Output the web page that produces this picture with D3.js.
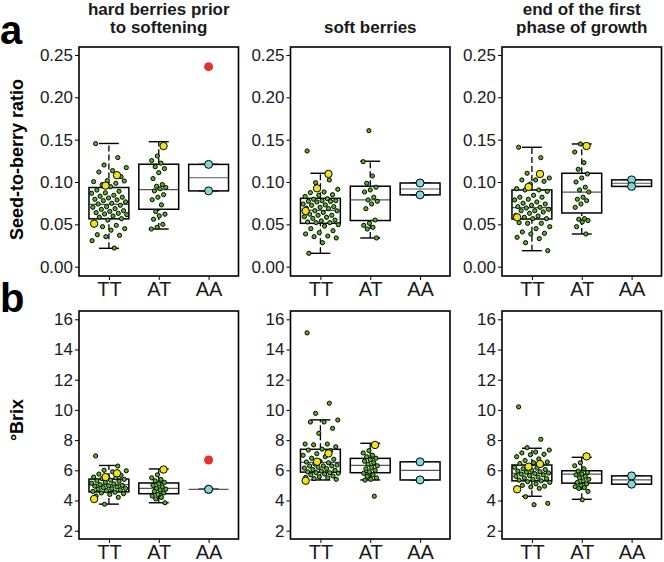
<!DOCTYPE html>
<html><head><meta charset="utf-8">
<script src="https://cdn.jsdelivr.net/npm/d3@7"></script>
<style>
body{margin:0;background:#fff}
svg{display:block}
text{font-family:"Liberation Sans",Arial,Helvetica,sans-serif}
</style>
</head><body>
<svg id="c" width="664" height="562"></svg>
<script>
// ---------------- DATA ----------------
const categories = ["TT", "AT", "AA"];
const stageTitles = [["hard berries prior", "to softening"], ["soft berries"], ["end of the first", "phase of growth"]];
const ratioTicks = [0.00, 0.05, 0.10, 0.15, 0.20, 0.25];
const brixTicks = [2, 4, 6, 8, 10, 12, 14, 16];
const rowTitles = ["Seed-to-berry ratio", "°Brix"];
const rowLetters = ["a", "b"];

// box stats [min, q1, median, q3, max] for TT, AT, AA
const ratioHardBox = [[0.0217, 0.0565, 0.0735, 0.0935, 0.1455], [0.0445, 0.0678, 0.091, 0.121, 0.1476], [0.0895, 0.0895, 0.105, 0.1208, 0.1208]];
const ratioSoftBox = [[0.0158, 0.0512, 0.0665, 0.0807, 0.1103], [0.0339, 0.0545, 0.0788, 0.095, 0.1245], [0.0848, 0.0848, 0.0917, 0.0988, 0.0988]];
const ratioEndBox  = [[0.0189, 0.0563, 0.0697, 0.0906, 0.141], [0.0386, 0.0634, 0.088, 0.1103, 0.1449], [0.0948, 0.0948, 0.0985, 0.1025, 0.1025]];
const brixHardBox  = [[3.76, 4.57, 5.05, 5.42, 6.32], [3.85, 4.45, 4.8, 5.16, 6.09], [4.74, 4.74, 4.74, 4.74, 4.74]];
const brixSoftBox  = [[5.36, 5.88, 6.52, 7.39, 9.34], [5.36, 5.84, 6.33, 6.79, 7.79], [5.36, 5.36, 6.0, 6.56, 6.56]];
const brixEndBox   = [[4.28, 5.3, 5.8, 6.35, 7.46], [4.08, 5.15, 5.75, 5.97, 6.86], [5.08, 5.08, 5.36, 5.63, 5.63]];

// individual accessions (green), highlighted (yellow), AA (cyan), outlier (red)
const ratioHardTT = [0.1453, 0.1288, 0.1201, 0.117, 0.1134, 0.1118, 0.1063, 0.1016, 0.1004, 0.0985, 0.0968, 0.1012, 0.0945, 0.0905, 0.089, 0.0872, 0.0867, 0.0843, 0.0832, 0.082, 0.0811, 0.0796, 0.0788, 0.078, 0.0765, 0.0748, 0.074, 0.0725, 0.0709, 0.0701, 0.0685, 0.0677, 0.0661, 0.0652, 0.0638, 0.063, 0.0622, 0.0614, 0.0598, 0.0585, 0.0567, 0.0551, 0.052, 0.0488, 0.0472, 0.0449, 0.0431, 0.0378, 0.037, 0.0354, 0.0307, 0.022];
const ratioHardTTHi = [0.108, 0.0957, 0.0508];
const ratioHardAT = [0.1307, 0.1253, 0.1222, 0.118, 0.1158, 0.111, 0.104, 0.097, 0.095, 0.0935, 0.092, 0.0895, 0.085, 0.082, 0.079, 0.073, 0.065, 0.062, 0.060, 0.056, 0.050, 0.0465, 0.0445];
const ratioHardATHi = [0.1425];
const ratioHardAA = [0.1208, 0.0895];
const ratioHardOut = [0.2362];

const ratioSoftTT = [0.1366, 0.1024, 0.0992, 0.0914, 0.0882, 0.0874, 0.085, 0.0843, 0.083, 0.0803, 0.0796, 0.0779, 0.0779, 0.0772, 0.077, 0.0764, 0.074, 0.073, 0.0725, 0.0709, 0.0701, 0.069, 0.0685, 0.0661, 0.066, 0.064, 0.062, 0.0607, 0.0607, 0.059, 0.0583, 0.057, 0.055, 0.054, 0.0528, 0.052, 0.052, 0.0496, 0.048, 0.0449, 0.0425, 0.0401, 0.0386, 0.0362, 0.0354, 0.0339, 0.0283, 0.0158];
const ratioSoftTTHi = [0.1095, 0.0925, 0.0658];
const ratioSoftAT = [0.1606, 0.124, 0.1071, 0.0985, 0.0938, 0.0906, 0.0882, 0.082, 0.0788, 0.0772, 0.074, 0.0685, 0.0551, 0.0512, 0.0488, 0.0465, 0.0445, 0.0339];
const ratioSoftATHi = [];
const ratioSoftAA = [0.0988, 0.0848];
const ratioSoftOut = [];

const ratioEndTT = [0.141, 0.1287, 0.1103, 0.1047, 0.1024, 0.1024, 0.1008, 0.0976, 0.0921, 0.0906, 0.0906, 0.089, 0.0843, 0.082, 0.082, 0.0796, 0.0788, 0.0764, 0.0749, 0.074, 0.0725, 0.0709, 0.0701, 0.0693, 0.0677, 0.0661, 0.0661, 0.0646, 0.063, 0.0607, 0.0598, 0.0583, 0.0567, 0.0567, 0.052, 0.0512, 0.0512, 0.0472, 0.0449, 0.041, 0.0394, 0.0386, 0.0347, 0.0331, 0.0283, 0.0189];
const ratioEndTTHi = [0.1095, 0.0941, 0.0583];
const ratioEndAT = [0.1449, 0.1354, 0.1228, 0.115, 0.1095, 0.1047, 0.1, 0.0938, 0.0906, 0.0882, 0.082, 0.0796, 0.078, 0.074, 0.0701, 0.0567, 0.056, 0.0545, 0.0528, 0.0472, 0.0386];
const ratioEndATHi = [0.1425];
const ratioEndAA = [0.1025, 0.0948];
const ratioEndOut = [];

const brixHardTT = [6.95, 6.28, 6.0, 5.97, 5.9, 5.75, 5.67, 5.6, 5.55, 5.5, 5.45, 5.4, 5.35, 5.3, 5.27, 5.2, 5.15, 5.1, 5.05, 5.0, 4.98, 4.95, 4.9, 4.85, 4.8, 4.78, 4.75, 4.7, 4.65, 4.6, 4.55, 4.5, 4.45, 4.4, 4.3, 4.21, 3.75];
const brixHardTTHi = [5.8, 5.55, 4.1];
const brixHardAT = [5.7, 5.5, 5.4, 5.3, 5.2, 5.1, 5.0, 4.9, 4.8, 4.75, 4.7, 4.6, 4.5, 4.4, 4.3, 4.2, 4.1, 3.85];
const brixHardATHi = [6.05];
const brixHardAA = [4.74, 4.74];
const brixHardOut = [6.68];

const brixSoftTT = [15.1, 10.44, 9.77, 9.33, 9.2, 9.2, 8.78, 8.45, 7.74, 7.74, 7.69, 7.56, 7.4, 7.34, 7.3, 7.1, 6.99, 6.9, 6.8, 6.73, 6.6, 6.55, 6.5, 6.42, 6.35, 6.29, 6.29, 6.29, 6.2, 6.15, 6.11, 6.05, 6.0, 5.95, 5.9, 5.84, 5.84, 5.8, 5.75, 5.7, 5.62, 5.57, 5.53, 5.5, 5.45, 5.4];
const brixSoftTTHi = [7.12, 6.57, 5.31];
const brixSoftAT = [7.3, 7.15, 7.0, 6.9, 6.8, 6.7, 6.6, 6.5, 6.4, 6.3, 6.2, 6.1, 6.0, 5.9, 5.8, 5.7, 5.6, 5.5, 5.4, 5.35, 4.28];
const brixSoftATHi = [7.68];
const brixSoftAA = [6.56, 5.36];
const brixSoftOut = [];

const brixEndTT = [10.2, 8.05, 7.5, 7.34, 7.21, 7.15, 7.06, 7.03, 6.9, 6.75, 6.65, 6.55, 6.5, 6.45, 6.38, 6.3, 6.2, 6.15, 6.1, 6.05, 6.0, 5.95, 5.9, 5.87, 5.82, 5.78, 5.75, 5.7, 5.65, 5.6, 5.55, 5.5, 5.45, 5.4, 5.35, 5.3, 5.25, 5.2, 5.1, 5.0, 4.95, 4.9, 4.85, 4.8, 4.25, 3.81, 3.72];
const brixEndTTHi = [6.42, 6.24, 4.74];
const brixEndAT = [6.5, 6.3, 6.1, 5.95, 5.85, 5.75, 5.7, 5.6, 5.5, 5.4, 5.3, 5.2, 5.1, 5.0, 4.92, 4.85, 4.8, 4.6, 4.05];
const brixEndATHi = [6.92];
const brixEndAA = [5.63, 5.08];
const brixEndOut = [];

// ---------------- LAYOUT / STYLE ----------------
const panelLefts = [79, 290.5, 502];
const panelW = 159.5;
const colGreen = "#52b41e", colYellow = "#f3e21b", colCyan = "#7fd7d6", colRed = "#e4312a";

const rows = [
  { top: 47, bottom: 276, domain: [-0.011, 0.2594], ticks: ratioTicks, fmt: d3.format(".2f"),
    panels: [
      { box: ratioHardBox, TT: ratioHardTT, TTHi: ratioHardTTHi, AT: ratioHardAT, ATHi: ratioHardATHi, AA: ratioHardAA, out: ratioHardOut },
      { box: ratioSoftBox, TT: ratioSoftTT, TTHi: ratioSoftTTHi, AT: ratioSoftAT, ATHi: ratioSoftATHi, AA: ratioSoftAA, out: ratioSoftOut },
      { box: ratioEndBox, TT: ratioEndTT, TTHi: ratioEndTTHi, AT: ratioEndAT, ATHi: ratioEndATHi, AA: ratioEndAA, out: ratioEndOut }
    ] },
  { top: 311, bottom: 539, domain: [1.45, 16.55], ticks: brixTicks, fmt: d3.format("d"),
    panels: [
      { box: brixHardBox, TT: brixHardTT, TTHi: brixHardTTHi, AT: brixHardAT, ATHi: brixHardATHi, AA: brixHardAA, out: brixHardOut },
      { box: brixSoftBox, TT: brixSoftTT, TTHi: brixSoftTTHi, AT: brixSoftAT, ATHi: brixSoftATHi, AA: brixSoftAA, out: brixSoftOut },
      { box: brixEndBox, TT: brixEndTT, TTHi: brixEndTTHi, AT: brixEndAT, ATHi: brixEndATHi, AA: brixEndAA, out: brixEndOut }
    ] }
];

const svg = d3.select("#c");

// deterministic spread (quasi-random) for horizontal jitter
function spread(i, off) { const f = (i * 0.6180339887 + off) % 1; return f * 2 - 1; }

rows.forEach((row, ri) => {
  const y = d3.scaleLinear().domain(row.domain).range([row.bottom, row.top]);
  row.panels.forEach((p, pi) => {
    const left = panelLefts[pi];
    const x = d3.scalePoint().domain(categories).range([left, left + panelW]).padding(0.6);
    const step = x.step();
    const g = svg.append("g");

    // y axis
    const ya = g.append("g").attr("transform", `translate(${left},0)`)
      .call(d3.axisLeft(y).tickValues(row.ticks).tickFormat(row.fmt).tickSize(4).tickPadding(2));
    ya.select(".domain").remove();
    ya.selectAll("line").attr("stroke", "#000").attr("stroke-width", 1);
    ya.selectAll("text").attr("font-size", 17).attr("fill", "#1a1a1a")
      .attr("font-family", "Liberation Sans, Arial, sans-serif");

    // x axis
    const xa = g.append("g").attr("transform", `translate(0,${row.bottom})`)
      .call(d3.axisBottom(x).tickSize(4).tickPadding(2));
    xa.select(".domain").remove();
    xa.selectAll("line").attr("stroke", "#000").attr("stroke-width", 1);
    xa.selectAll("text").attr("font-size", 20).attr("fill", "#1a1a1a")
      .attr("font-family", "Liberation Sans, Arial, sans-serif");

    // boxplots
    const boxW = step * 0.8, capW = step * 0.4;
    categories.forEach((c, ci) => {
      const [mn, q1, md, q3, mx] = p.box[ci];
      const cx = x(c);
      [[q3, mx], [mn, q1]].forEach(([a, b]) => {
        if (b - a > 0) {
          g.append("line").attr("x1", cx).attr("x2", cx).attr("y1", y(a)).attr("y2", y(b))
            .attr("stroke", "#000").attr("stroke-width", 1.3).attr("stroke-dasharray", "6,3");
        }
      });
      [mn, mx].forEach(v => {
        g.append("line").attr("x1", cx - capW / 2).attr("x2", cx + capW / 2).attr("y1", y(v)).attr("y2", y(v))
          .attr("stroke", "#000").attr("stroke-width", 1.4);
      });
      g.append("rect").attr("x", cx - boxW / 2).attr("width", boxW)
        .attr("y", y(q3)).attr("height", Math.max(0, y(q1) - y(q3))).attr("fill", "#fff");
      g.append("line").attr("x1", cx - boxW / 2).attr("x2", cx + boxW / 2).attr("y1", y(md)).attr("y2", y(md))
        .attr("stroke", "#555").attr("stroke-width", 1.2);
      g.append("rect").attr("x", cx - boxW / 2).attr("width", boxW)
        .attr("y", y(q3)).attr("height", Math.max(0, y(q1) - y(q3))).attr("fill", "none")
        .attr("stroke", "#000").attr("stroke-width", 1.5);
    });

    // points
    const groups = [
      { data: p.TT, c: "TT", w: 0.36, r: 2.1, fill: colGreen, stroke: "#000", sw: 1, off: 0.13 },
      { data: p.AT, c: "AT", w: 0.15, r: 2.1, fill: colGreen, stroke: "#000", sw: 1, off: 0.41 },
      { data: p.TTHi, c: "TT", w: 0.3, r: 3.7, fill: colYellow, stroke: "#000", sw: 1, off: 0.77 },
      { data: p.ATHi, c: "AT", w: 0.12, r: 3.7, fill: colYellow, stroke: "#000", sw: 1, off: 0.9 },
      { data: p.AA, c: "AA", w: 0, r: 4, fill: colCyan, stroke: "#000", sw: 1, off: 0 },
      { data: p.out, c: "AA", w: 0, r: 4.5, fill: colRed, stroke: "none", sw: 0, off: 0 }
    ];
    groups.forEach(gr => {
      g.selectAll(null).data(gr.data).enter().append("circle")
        .attr("cx", (d, i) => x(gr.c) + spread(i, gr.off) * gr.w * step)
        .attr("cy", d => y(d))
        .attr("r", gr.r)
        .attr("fill", gr.fill)
        .attr("stroke", gr.stroke)
        .attr("stroke-width", gr.sw);
    });

    // panel border
    g.append("rect").attr("x", left).attr("y", row.top).attr("width", panelW).attr("height", row.bottom - row.top)
      .attr("fill", "none").attr("stroke", "#000").attr("stroke-width", 1.6);

    if (ri === 0) {
      const lines = stageTitles[pi];
      const base = lines.length === 2 ? 15 : 33;
      lines.forEach((t, li) => {
        svg.append("text").attr("x", left + panelW / 2).attr("y", base + li * 18)
          .attr("text-anchor", "middle").attr("font-size", 17).attr("font-weight", "bold")
          .attr("fill", "#1a1a1a").text(t);
      });
    }
  });

  const cy = (row.top + row.bottom) / 2 - (ri === 0 ? 2 : 5);
  svg.append("text").attr("transform", `translate(23,${cy}) rotate(-90)`)
    .attr("text-anchor", "middle").attr("font-size", 18).attr("font-weight", "bold")
    .attr("fill", "#000").text(rowTitles[ri]);
  svg.append("text").attr("x", 0).attr("y", ri === 0 ? 44 : 312)
    .attr("font-size", 40).attr("font-weight", "bold").attr("fill", "#000").text(rowLetters[ri]);
});
</script>
</body></html>
